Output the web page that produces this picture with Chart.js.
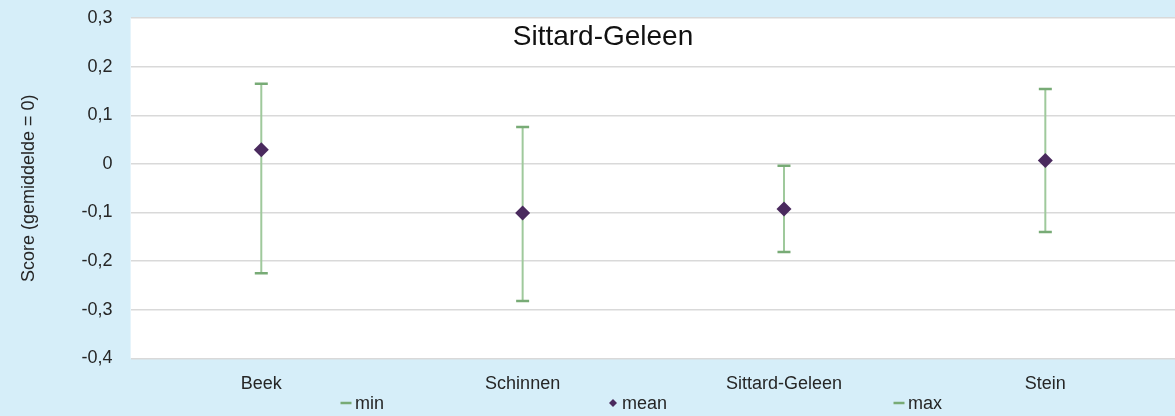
<!DOCTYPE html>
<html>
<head>
<meta charset="utf-8">
<script src="https://cdn.jsdelivr.net/npm/chart.js@4.4.0/dist/chart.umd.min.js"></script>
<style>
  html, body { margin: 0; padding: 0; background: #d6eef9; overflow: hidden; }
  #wrap { position: relative; width: 1185px; height: 416px; }
</style>
</head>
<body>
<div id="wrap"><canvas id="myChart"></canvas></div>
<script>
var categories = ['Beek', 'Schinnen', 'Sittard-Geleen', 'Stein'];
var minValues = [-0.225, -0.282, -0.181, -0.140];
var meanValues = [0.029, -0.101, -0.093, 0.007];
var maxValues = [0.165, 0.076, -0.004, 0.154];
var yTicks = [0.3, 0.2, 0.1, 0, -0.1, -0.2, -0.3, -0.4];
var chartTitle = 'Sittard-Geleen';
var yTitle = 'Score (gemiddelde = 0)';

var FONT = '"Liberation Sans", Arial, sans-serif';
var ctx = document.getElementById('myChart').getContext('2d');

// legend item x positions (marker centre), spread out like the original
var legendX = [346, 613, 899];

var extras = {
    id: 'extras',
    beforeDraw: function(chart) {
        var a = chart.chartArea, c = chart.ctx;
        c.save();
        c.fillStyle = '#ffffff';
        c.fillRect(a.left, a.top, a.right - a.left, a.bottom - a.top);
        c.restore();
    },
    beforeDatasetsDraw: function(chart) {
        var c = chart.ctx, x = chart.scales.x, y = chart.scales.y;
        c.save();
        c.strokeStyle = '#9fc99c';
        c.lineWidth = 2;
        for (var i = 0; i < categories.length; i++) {
            var px = x.getPixelForValue(i);
            c.beginPath();
            c.moveTo(px, y.getPixelForValue(minValues[i]));
            c.lineTo(px, y.getPixelForValue(maxValues[i]));
            c.stroke();
        }
        c.restore();
    },
    afterDraw: function(chart) {
        var c = chart.ctx;
        c.save();
        c.fillStyle = '#111';
        c.font = '28px ' + FONT;
        c.textAlign = 'center';
        c.textBaseline = 'middle';
        c.fillText(chartTitle, 603, 37);

        // legend
        var ly = 403;
        c.font = '18px ' + FONT;
        c.textAlign = 'left';
        chart.data.datasets.forEach(function(ds, i) {
            var isLine = ds.pointStyle === 'line';
            var style = {
                pointStyle: ds.pointStyle,
                rotation: 0,
                radius: isLine ? 5.5 : 4,
                borderWidth: isLine ? 2.5 : 0
            };
            c.fillStyle = ds.backgroundColor;
            c.strokeStyle = ds.borderColor;
            c.lineWidth = style.borderWidth;
            Chart.helpers.drawPoint(c, style, legendX[i], ly);
            c.fillStyle = '#262626';
            c.fillText(ds.label, legendX[i] + 9, ly + 1);
        });
        c.restore();
    }
};

new Chart(ctx, {
    type: 'line',
    data: {
        labels: categories,
        datasets: [
            {
                label: 'min',
                data: minValues,
                showLine: false,
                pointStyle: 'line',
                pointRadius: 6.5,
                pointBorderWidth: 2.5,
                borderColor: '#78ab76',
                backgroundColor: '#78ab76'
            },
            {
                label: 'mean',
                data: meanValues,
                showLine: false,
                pointStyle: 'rectRot',
                pointRadius: 7.5,
                pointBorderWidth: 0,
                borderColor: '#4a2a5e',
                backgroundColor: '#4a2a5e'
            },
            {
                label: 'max',
                data: maxValues,
                showLine: false,
                pointStyle: 'line',
                pointRadius: 6.5,
                pointBorderWidth: 2.5,
                borderColor: '#78ab76',
                backgroundColor: '#78ab76'
            }
        ]
    },
    options: {
        responsive: true,
        maintainAspectRatio: false,
        animation: false,
        layout: {
            padding: { left: 18, right: 0, top: 18, bottom: 14 }
        },
        scales: {
            x: {
                offset: true,
                grid: { display: false },
                border: { display: false },
                ticks: {
                    color: '#262626',
                    font: { family: FONT, size: 18 },
                    padding: 7
                }
            },
            y: {
                min: -0.4,
                max: 0.3,
                afterBuildTicks: function(axis) {
                    axis.ticks = yTicks.map(function(v) { return { value: v }; });
                },
                afterFit: function(axis) {
                    axis.paddingTop = 0;
                    axis.paddingBottom = 0;
                },
                grid: { color: '#d9d9d9', lineWidth: 1.5, drawTicks: false },
                border: { display: false },
                ticks: {
                    autoSkip: false,
                    color: '#262626',
                    padding: 18,
                    font: { family: FONT, size: 18 },
                    callback: function(v) {
                        var r = Math.round(v * 10) / 10;
                        return r === 0 ? '0' : r.toFixed(1).replace('.', ',');
                    }
                },
                title: {
                    display: true,
                    text: yTitle,
                    color: '#262626',
                    font: { family: FONT, size: 18 },
                    padding: { top: 0, bottom: 24 }
                }
            }
        },
        plugins: {
            legend: { display: false },
            tooltip: { enabled: false }
        }
    },
    plugins: [extras]
});
</script>
</body>
</html>
